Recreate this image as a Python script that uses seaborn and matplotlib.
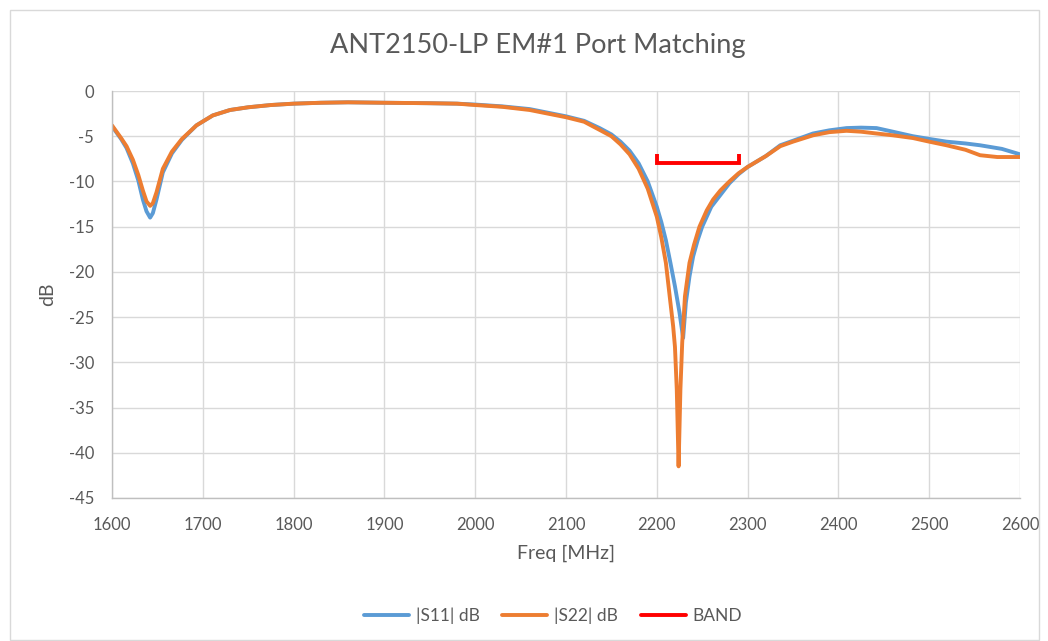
import matplotlib
matplotlib.use("Agg")
import matplotlib.pyplot as plt
import seaborn as sns
import pandas as pd
from matplotlib.patches import Rectangle
from matplotlib.lines import Line2D

# ---- data ----
s11_freq = [1600, 1605, 1610, 1616, 1623, 1629, 1634, 1638, 1642, 1645, 1649, 1656, 1666, 1677, 1693,
            1711, 1730, 1750, 1775, 1800, 1830, 1860, 1900, 1950, 1980, 2000, 2030, 2060, 2080, 2100,
            2120, 2137, 2150, 2160, 2170, 2180, 2190, 2200, 2205, 2210, 2215, 2220, 2225, 2229, 2232,
            2236, 2240, 2245, 2250, 2260, 2270, 2280, 2290, 2300, 2320, 2336, 2350, 2372, 2390, 2409,
            2425, 2442, 2460, 2482, 2500, 2519, 2540, 2556, 2580, 2600]
s11_db = [-3.9, -4.6, -5.3, -6.3, -8.0, -9.9, -12.0, -13.3, -14.0, -13.5, -12.0, -9.0, -6.9, -5.4, -3.8,
          -2.7, -2.1, -1.8, -1.55, -1.4, -1.3, -1.25, -1.3, -1.35, -1.4, -1.5, -1.7, -2.0, -2.4, -2.8,
          -3.3, -4.1, -4.8, -5.6, -6.6, -8.0, -10.0, -12.8, -14.5, -16.5, -19.0, -21.6, -24.5, -27.3, -23.4,
          -20.5, -18.3, -16.5, -15.0, -12.8, -11.5, -10.2, -9.2, -8.4, -7.2, -6.0, -5.5, -4.7, -4.35, -4.1,
          -4.05, -4.1, -4.5, -5.0, -5.3, -5.6, -5.8, -6.0, -6.4, -7.0]

s22_freq = [1600, 1605, 1610, 1616, 1623, 1629, 1634, 1638, 1642, 1645, 1649, 1656, 1666, 1677, 1693,
            1711, 1730, 1750, 1775, 1800, 1830, 1860, 1900, 1950, 1980, 2000, 2030, 2060, 2080, 2100,
            2120, 2137, 2150, 2160, 2170, 2180, 2190, 2200, 2205, 2210, 2215, 2218, 2220, 2222, 2224,
            2226, 2228, 2231, 2236, 2241, 2247, 2255, 2262, 2270, 2280, 2290, 2300, 2320, 2336, 2350,
            2372, 2390, 2409, 2425, 2442, 2460, 2482, 2500, 2519, 2540, 2556, 2575, 2600]
s22_db = [-3.8, -4.5, -5.2, -6.1, -7.6, -9.3, -11.0, -12.2, -12.7, -12.4, -11.2, -8.6, -6.7, -5.3, -3.8,
          -2.7, -2.1, -1.8, -1.55, -1.4, -1.3, -1.25, -1.3, -1.35, -1.4, -1.55, -1.75, -2.1, -2.5, -2.9,
          -3.4, -4.3, -5.0, -5.9, -7.0, -8.6, -10.8, -13.9, -16.2, -19.0, -23.4, -26.0, -28.3, -33.0, -41.5,
          -33.0, -27.8, -22.7, -19.0, -17.0, -15.0, -13.2, -12.0, -11.0, -10.0, -9.1, -8.4, -7.2, -6.1, -5.6,
          -4.9, -4.55, -4.4, -4.5, -4.7, -4.9, -5.2, -5.6, -6.0, -6.5, -7.1, -7.3, -7.3]

band_freq = [2200, 2200, 2290, 2290]
band_db = [-7.0, -8.0, -8.0, -7.0]

x_ticks = [1600, 1700, 1800, 1900, 2000, 2100, 2200, 2300, 2400, 2500, 2600]
y_ticks = [0, -5, -10, -15, -20, -25, -30, -35, -40, -45]

# ---- build table ----
df = pd.concat([
    pd.DataFrame({"freq": s11_freq, "db": s11_db, "series": "|S11| dB"}),
    pd.DataFrame({"freq": s22_freq, "db": s22_db, "series": "|S22| dB"}),
])
band = pd.DataFrame({"freq": band_freq, "db": band_db})

sns.set_theme(style="white")
plt.rcParams["font.family"] = ["Lato", "DejaVu Sans"]
txt = "#595959"
grid = "#D9D9D9"

fig = plt.figure(figsize=(10.48, 6.41), dpi=100)
ax = fig.add_axes([112 / 1048, 1 - 498 / 641, (1020 - 112) / 1048, (498 - 91) / 641])

palette = {"|S11| dB": "#5B9BD5", "|S22| dB": "#ED7D31"}
sns.lineplot(data=df, x="freq", y="db", hue="series", palette=palette, sort=False,
             estimator=None, linewidth=2.8, ax=ax, legend=False)
ax.plot(band["freq"], band["db"], color="#FF0000", linewidth=2.8, solid_capstyle="butt",
        solid_joinstyle="miter")

ax.set_xlim(1600, 2600)
ax.set_ylim(-45, 0)
ax.set_xticks(x_ticks)
ax.set_yticks(y_ticks)
ax.set_xticklabels([str(v) for v in x_ticks])
ax.set_yticklabels([str(v) for v in y_ticks])
ax.tick_params(axis="both", length=0, labelsize=12, colors=txt)
ax.tick_params(axis="x", pad=14)
ax.tick_params(axis="y", pad=13)
ax.grid(True, color=grid, linewidth=1)
ax.set_axisbelow(True)
for side in ["top", "right"]:
    ax.spines[side].set_visible(False)
for side in ["left", "bottom"]:
    ax.spines[side].set_color("#BFBFBF")
    ax.spines[side].set_linewidth(1)

ax.set_xlabel("Freq [MHz]", fontsize=14, color=txt, labelpad=8)
ax.set_ylabel("dB", fontsize=14, color=txt, labelpad=9)

fig.text(538 / 1048, 1 - 45 / 641, "ANT2150-LP EM#1 Port Matching", ha="center", va="center",
         fontsize=19.5, color=txt)

# legend
handles = [Line2D([], [], color="#5B9BD5", lw=2.8),
           Line2D([], [], color="#ED7D31", lw=2.8),
           Line2D([], [], color="#FF0000", lw=2.8)]
labels = ["|S11| dB", "|S22| dB", "BAND"]
fig.legend(handles, labels, loc="center", bbox_to_anchor=(553 / 1048, 1 - 616 / 641), ncol=3,
           frameon=False, fontsize=12.5, labelcolor=txt, handlelength=2.6, columnspacing=1.3,
           handletextpad=0.4)

fig.patches.append(Rectangle((10 / 1048, 1 / 641), 1029 / 1048, 630 / 641, transform=fig.transFigure,
                             fill=False, edgecolor="#D9D9D9", linewidth=1))

fig.savefig("out.png", dpi=100)
